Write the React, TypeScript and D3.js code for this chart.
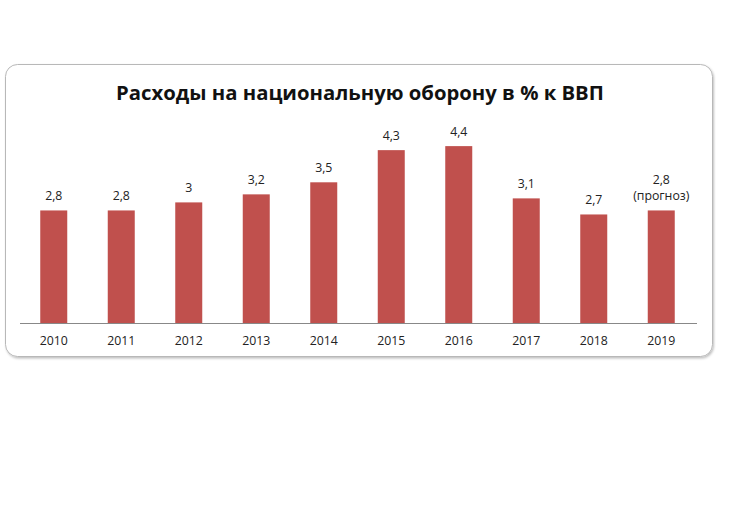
import React from "react";
import * as d3 from "d3";

const years = ["2010", "2011", "2012", "2013", "2014", "2015", "2016", "2017", "2018", "2019"];
const values = [2.8, 2.8, 3, 3.2, 3.5, 4.3, 4.4, 3.1, 2.7, 2.8];
const valueLabels = ["2,8", "2,8", "3", "3,2", "3,5", "4,3", "4,4", "3,1", "2,7", "2,8"];
const noteLabels = ["", "", "", "", "", "", "", "", "", "(прогноз)"];
const title = "Расходы на национальную оборону в % к ВВП";

const W = 735;
const H = 517;
const FONT = "'Open Sans', 'Noto Sans', sans-serif";

export default function App() {
  const x = d3.scaleBand<string>().domain(years).range([20, 695]).paddingInner(0.6).paddingOuter(0.3);
  const y = d3.scaleLinear().domain([0, 5]).range([323, 323 - 40.2 * 5]);
  const bw = x.bandwidth();
  return (
    <svg width={W} height={H} style={{ position: "absolute", left: 0, top: 0, background: "#fff" }}>
      <defs>
        <filter id="sh" x="-5%" y="-5%" width="110%" height="115%">
          <feDropShadow dx="1" dy="1.5" stdDeviation="1" floodColor="#000" floodOpacity="0.25" />
        </filter>
      </defs>
      <rect x={5.5} y={64.5} width={707} height={292} rx={12} ry={12} fill="#fff" stroke="#b8b8b8" strokeWidth={1} filter="url(#sh)" />
      <text x={360} y={99.5} textAnchor="middle" fontFamily={FONT} fontWeight="bold" fontSize={20.3} fill="#111">
        {title}
      </text>
      {years.map((yr, i) => {
        const cx = (x(yr) as number) + bw / 2;
        const top = y(values[i]);
        return (
          <g key={yr}>
            <rect x={x(yr)} y={top} width={bw} height={y(0) - top} fill="#C0504D" />
            {noteLabels[i] ? (
              <>
                <text x={cx} y={top - 26} textAnchor="middle" fontFamily={FONT} fontSize={12.3} fill="#222">{valueLabels[i]}</text>
                <text x={cx} y={top - 10} textAnchor="middle" fontFamily={FONT} fontSize={12.3} fill="#222">{noteLabels[i]}</text>
              </>
            ) : (
              <text x={cx} y={top - 10} textAnchor="middle" fontFamily={FONT} fontSize={12.3} fill="#222">{valueLabels[i]}</text>
            )}
            <text x={cx} y={345} textAnchor="middle" fontFamily={FONT} fontSize={12.3} fill="#222">{yr}</text>
          </g>
        );
      })}
      <line x1={20} x2={697} y1={323.5} y2={323.5} stroke="#888" strokeWidth={1} />
    </svg>
  );
}
